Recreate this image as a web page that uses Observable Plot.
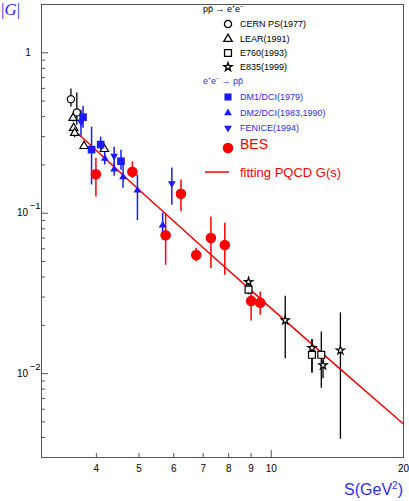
<!DOCTYPE html>
<html><head><meta charset="utf-8">
<script src="https://cdn.jsdelivr.net/npm/d3@7"></script>
<script src="https://cdn.jsdelivr.net/npm/@observablehq/plot@0.6"></script>
<style>html,body{margin:0;padding:0;background:#fff;} svg{display:block}</style>
</head><body><div id="chart"></div>
<script>
// ---- data ----
// p pbar -> e+e-
const cernS  = [3.50, 3.61];
const cernG  = [0.514, 0.425];
const cernLo = [0.458, 0.354];
const cernHi = [0.594, 0.561];

const learS  = [3.54, 3.55, 3.57, 3.75, 4.17];
const learG  = [0.392, 0.340, 0.316, 0.262, 0.251];
const learLo = [0.370, 0.318, 0.295, 0.250, 0.240];
const learHi = [0.415, 0.362, 0.335, 0.275, 0.262];

const e760S  = [8.88, 12.38, 13.0];
const e760G  = [0.0334, 0.0131, 0.0131];
const e760Lo = [0.0310, 0.0101, 0.0081];
const e760Hi = [0.0360, 0.0163, 0.0182];

const e835S  = [8.88, 10.76, 12.38, 13.12, 14.37];
const e835G  = [0.0373, 0.0215, 0.01445, 0.01127, 0.01397];
const e835Lo = [0.0350, 0.0124, 0.0101, 0.0093, 0.0039];
const e835Hi = [0.0400, 0.0304, 0.0163, 0.0130, 0.0239];

// e+e- -> p pbar
const dm1S  = [3.73, 3.90, 4.09, 4.55];
const dm1G  = [0.397, 0.249, 0.268, 0.211];
const dm1Lo = [0.339, 0.150, 0.247, 0.185];
const dm1Hi = [0.465, 0.344, 0.298, 0.247];

const dm2S  = [4.18, 4.39, 4.60, 4.96, 5.66];
const dm2G  = [0.219, 0.188, 0.168, 0.139, 0.084];
const dm2Lo = [0.200, 0.170, 0.143, 0.090, 0.068];
const dm2Hi = [0.240, 0.205, 0.199, 0.173, 0.100];

const fenS  = [3.69, 4.39, 5.94];
const fenG  = [0.371, 0.227, 0.153];
const fenLo = [0.298, 0.185, 0.112];
const fenHi = [0.439, 0.258, 0.191];

const besS  = [3.99, 4.83, 5.75, 6.23, 6.75, 7.29, 7.84, 9.00, 9.44];
const besG  = [0.175, 0.181, 0.0729, 0.132, 0.0549, 0.0701, 0.0634, 0.0284, 0.0277];
const besLo = [0.126, 0.165, 0.0474, 0.102, 0.0497, 0.0452, 0.0410, 0.0213, 0.0231];
const besHi = [0.220, 0.209, 0.0995, 0.161, 0.0605, 0.0948, 0.0866, 0.0331, 0.0323];

// fitting PQCD G(s) curve
const fitS = [3.6, 4, 5, 7, 10, 14, 20];
const fitG = [0.321, 0.246, 0.140, 0.0609, 0.0255, 0.01134, 0.00485];

// axes ticks
const xLabelTicks = [4, 5, 6, 7, 8, 9, 10, 20];
const xMinorTicks = [4, 5, 6, 7, 8, 9];
const xMajorTicks = [10];
const yLabelTicks = [1, 0.1, 0.01];
const yLabelBase  = ["1", "10", "10"];
const yLabelExp   = ["", "\u22121", "\u22122"];
const yMinorTicks = [0.9, 0.8, 0.7, 0.6, 0.5, 0.4, 0.3, 0.2,
                     0.09, 0.08, 0.07, 0.06, 0.05, 0.04, 0.03, 0.02,
                     0.009, 0.008, 0.007, 0.006, 0.005, 0.004];

const BLUE = "#1a1aff", RED = "#ff0000", TXTBLUE = "#2b2bff";

const rows = (s, g, lo, hi) => s.map((v, i) => ({s: v, g: g[i], lo: lo[i], hi: hi[i]}));
const cern = rows(cernS, cernG, cernLo, cernHi);
const lear = rows(learS, learG, learLo, learHi);
const e760 = rows(e760S, e760G, e760Lo, e760Hi);
const e835 = rows(e835S, e835G, e835Lo, e835Hi);
const dm1 = rows(dm1S, dm1G, dm1Lo, dm1Hi);
const dm2 = rows(dm2S, dm2G, dm2Lo, dm2Hi);
const fen = rows(fenS, fenG, fenLo, fenHi);
const bes = rows(besS, besG, besLo, besHi);
const fit = fitS.map((v, i) => ({s: v, g: fitG[i]}));

const err = (data, color, w) => Plot.ruleX(data, {x: "s", y1: "lo", y2: "hi", stroke: color, strokeWidth: w});

const chart = Plot.plot({
  width: 409, height: 501,
  marginLeft: 41, marginRight: 6, marginTop: 4, marginBottom: 44,
  style: {fontFamily: "'Liberation Sans', Arial, sans-serif", fontSize: "10px", background: "white", color: "black"},
  x: {type: "log", domain: [3, 20]},
  y: {type: "log", domain: [0.003, 2]},
  marks: [
    Plot.frame({stroke: "#555", strokeWidth: 1}),
    Plot.axisX({ticks: xMinorTicks, tickSize: -4, tickFormat: () => "", label: null, stroke: "#555"}),
    Plot.axisX({ticks: xMajorTicks, tickSize: -7, tickFormat: () => "", label: null, stroke: "#555"}),
    Plot.axisX({ticks: xLabelTicks, tickSize: 0, tickPadding: 7, tickFormat: d => String(d), label: null, fontSize: 10}),
    Plot.axisY({ticks: yMinorTicks, tickSize: -4, tickFormat: () => "", label: null, stroke: "#555"}),
    Plot.axisY({ticks: yLabelTicks, tickSize: -7, tickFormat: () => "", label: null, stroke: "#555"}),
    err(cern, "black", 1.3), err(lear, "black", 1.3), err(e760, "black", 1.3), err(e835, "black", 1.3),
    err(dm1, BLUE, 1.5), err(dm2, BLUE, 1.5), err(fen, BLUE, 1.5),
    err(bes, RED, 1.5),
    Plot.line(fit, {x: "s", y: "g", stroke: RED, strokeWidth: 1.5}),
    Plot.dot(cern, {x: "s", y: "g", symbol: "circle", r: 3.6, stroke: "black", fill: "white", strokeWidth: 1.2}),
    Plot.dot(lear, {x: "s", y: "g", symbol: "triangle", r: 3.1, stroke: "black", fill: "white", strokeWidth: 1.2}),
    Plot.dot(e760, {x: "s", y: "g", symbol: "square", r: 3.9, stroke: "black", fill: "white", strokeWidth: 1.2}),
    Plot.dot(e835, {x: "s", y: "g", symbol: "star", r: 2.6, stroke: "black", fill: "white", strokeWidth: 1.2}),
    Plot.dot(dm1, {x: "s", y: "g", symbol: "square", r: 4.3, fill: BLUE, stroke: "none"}),
    Plot.dot(dm2, {x: "s", y: "g", symbol: "triangle", r: 2.9, fill: BLUE, stroke: "none"}),
    Plot.dot(fen, {x: "s", y: "g", symbol: "triangle", rotate: 180, r: 2.9, fill: BLUE, stroke: "none"}),
    Plot.dot(bes, {x: "s", y: "g", symbol: "circle", r: 5.3, fill: RED, stroke: "none"})
  ]
});

const svg = d3.select(chart);
const font = "'Liberation Sans', Arial, sans-serif";
const yScale = chart.scale("y");

// y tick labels with real superscripts, positioned through the plot's y scale
const ylab = svg.append("g").attr("font-family", font).attr("font-size", 10).attr("text-anchor", "start");
yLabelTicks.forEach((v, i) => {
  const py = yScale.apply(v);
  if (!yLabelExp[i]) {
    ylab.append("text").attr("x", 28).attr("y", py).attr("dy", "0.35em").attr("text-anchor", "middle").text(yLabelBase[i]);
  } else {
    const t = ylab.append("text").attr("x", 17).attr("y", py).attr("dy", "0.35em");
    t.append("tspan").text(yLabelBase[i]);
    t.append("tspan").attr("dx", 1.5).attr("dy", -7).attr("font-size", 9.5).text(yLabelExp[i]);
  }
});

// axis titles
const yt = svg.append("text").attr("x", 1).attr("y", 15).attr("text-anchor", "start")
  .attr("font-family", "'Liberation Serif', 'Times New Roman', serif").attr("font-size", 17).attr("fill", TXTBLUE);
yt.append("tspan").text("|");
yt.append("tspan").attr("font-style", "italic").text("G");
yt.append("tspan").text("|");

const xt = svg.append("text").attr("x", 403).attr("y", 495).attr("text-anchor", "end")
  .attr("font-family", font).attr("font-size", 16).attr("fill", TXTBLUE);
xt.append("tspan").text("S(GeV");
xt.append("tspan").attr("font-size", 10).attr("dy", -6).text("2");
xt.append("tspan").attr("dy", 6).text(")");

// legend
const lg = svg.append("g").attr("font-family", font).attr("text-anchor", "start");
const sym = (type, r) => d3.symbol(type, Math.PI * r * r)();
const mx = 228, tx = 240;
lg.append("text").attr("x", 203).attr("y", 9).attr("dy", "0.35em").attr("font-size", 9).attr("fill", "black")
  .text("pp\u0304 \u2192 e\u207Ae\u207B");
const blackItems = [
  {label: "CERN PS(1977)", type: d3.symbolCircle, r: 3.6, y: 24},
  {label: "LEAR(1991)", type: d3.symbolTriangle, r: 3.1, y: 39},
  {label: "E760(1993)", type: d3.symbolSquare, r: 3.9, y: 53},
  {label: "E835(1999)", type: d3.symbolStar, r: 2.6, y: 67}
];
for (const it of blackItems) {
  lg.append("path").attr("d", sym(it.type, it.r)).attr("transform", `translate(${mx},${it.y})`)
    .attr("fill", "white").attr("stroke", "black").attr("stroke-width", 1.3);
  lg.append("text").attr("x", tx).attr("y", it.y).attr("dy", "0.35em").attr("font-size", 9).text(it.label);
}
lg.append("text").attr("x", 203).attr("y", 81).attr("dy", "0.35em").attr("font-size", 9).attr("fill", TXTBLUE)
  .text("e\u207Ae\u207B \u2192 pp\u0304");
const blueItems = [
  {label: "DM1/DCI(1979)", type: d3.symbolSquare, r: 4.0, y: 97, rot: 0},
  {label: "DM2/DCI(1983,1990)", type: d3.symbolTriangle, r: 2.9, y: 113, rot: 0},
  {label: "FENICE(1994)", type: d3.symbolTriangle, r: 2.9, y: 128, rot: 180}
];
for (const it of blueItems) {
  lg.append("path").attr("d", sym(it.type, it.r)).attr("transform", `translate(${mx},${it.y}) rotate(${it.rot})`)
    .attr("fill", BLUE);
  lg.append("text").attr("x", tx).attr("y", it.y).attr("dy", "0.35em").attr("font-size", 9).attr("fill", TXTBLUE).text(it.label);
}
lg.append("path").attr("d", sym(d3.symbolCircle, 5.3)).attr("transform", `translate(${mx},148)`).attr("fill", RED);
lg.append("text").attr("x", tx).attr("y", 144).attr("dy", "0.35em").attr("font-size", 14).attr("fill", RED).text("BES");
lg.append("line").attr("x1", 205).attr("x2", 229).attr("y1", 172).attr("y2", 172).attr("stroke", RED).attr("stroke-width", 1.5);
lg.append("text").attr("x", tx).attr("y", 172).attr("dy", "0.35em").attr("font-size", 13).attr("fill", RED).text("fitting PQCD G(s)");

document.getElementById("chart").appendChild(chart);
</script></body></html>
